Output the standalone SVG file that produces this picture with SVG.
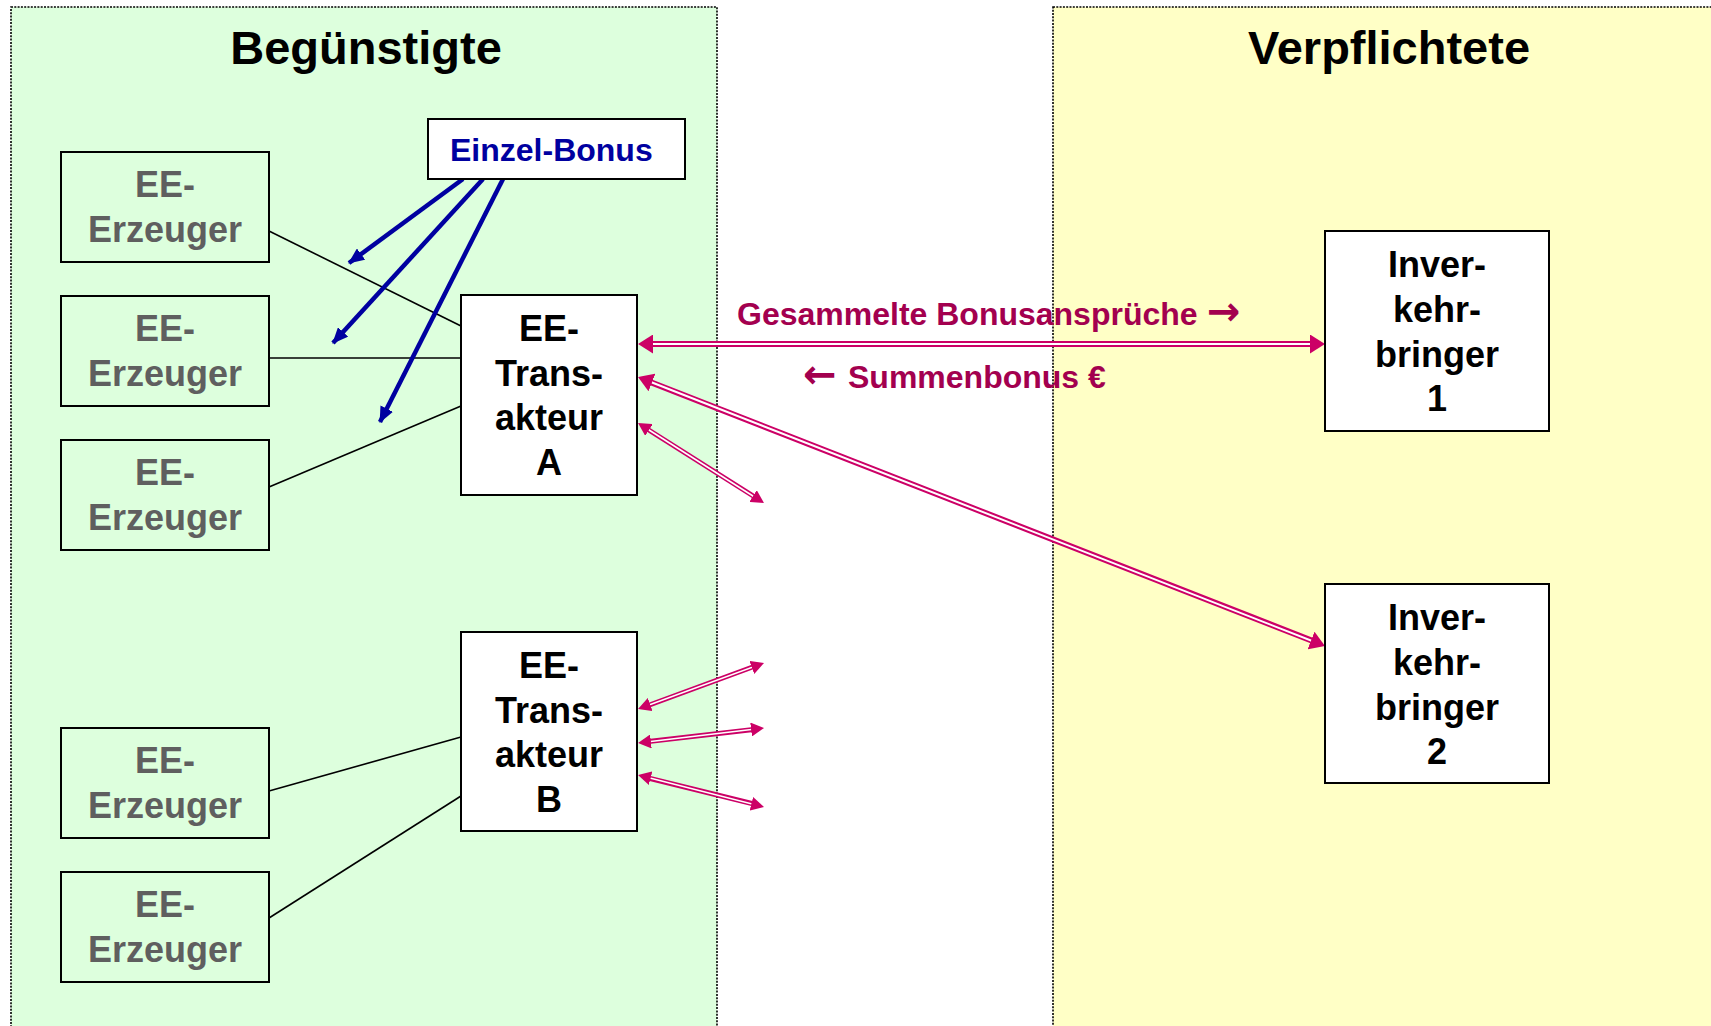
<svg xmlns="http://www.w3.org/2000/svg" width="1711" height="1026" viewBox="0 0 1711 1026">
<style>
.panel{stroke:#000;stroke-width:1.6;stroke-dasharray:2 1.3}
.box{stroke:#000;stroke-width:2}
.t{font-family:"Liberation Sans",Arial,sans-serif;font-weight:bold;text-anchor:middle}
.gen{fill:#5f5f5f;font-size:36px}
.blk{fill:#000;font-size:36px}
.title{fill:#000;font-size:47px}
.lbl{font-family:"Liberation Sans",Arial,sans-serif;font-weight:bold;font-size:32px;fill:#a3004f}
.arw{font-family:"DejaVu Sans",sans-serif;font-size:40px}
.thin{stroke:#000;stroke-width:1.6;fill:none}
.blue{stroke:#0000a0;stroke-width:4.5;fill:none;marker-end:url(#bh)}
.dout{stroke:#cc0066;stroke-width:6;fill:none}
.din{stroke:#fff;stroke-width:2;fill:none;marker-start:url(#mh);marker-end:url(#mh)}
.sout{stroke:#cc0066;stroke-width:5;fill:none}
.sin{stroke:#fff;stroke-width:1.6;fill:none;marker-start:url(#ms);marker-end:url(#ms)}
</style>
<defs>
<marker id="bh" markerUnits="userSpaceOnUse" viewBox="0 0 16 14" refX="15" refY="7" markerWidth="16" markerHeight="14" orient="auto"><path d="M0,0 L16,7 L0,14 z" fill="#0000a0"/></marker>
<marker id="mh" markerUnits="userSpaceOnUse" viewBox="0 0 15 19" refX="15" refY="9.5" markerWidth="15" markerHeight="19" orient="auto-start-reverse"><path d="M0,0 L15,9.5 L0,19 z" fill="#cc0066"/></marker>
<marker id="ms" markerUnits="userSpaceOnUse" viewBox="0 0 13 14" refX="13" refY="7" markerWidth="13" markerHeight="14" orient="auto-start-reverse"><path d="M0,0 L13,7 L0,14 z" fill="#cc0066"/></marker>
</defs>
<rect width="1711" height="1026" fill="#fff"/>
<g id="panel-beguenstigte">
<rect class="panel" x="11" y="7" width="706" height="1040" fill="#ddffdd"/>
<text class="t title" x="366" y="64">Begünstigte</text>
</g>
<g id="panel-verpflichtete">
<rect class="panel" x="1053" y="7" width="680" height="1040" fill="#ffffc6"/>
<text class="t title" x="1389" y="64">Verpflichtete</text>
</g>
<g id="connectors">
<line class="thin" x1="269" y1="231" x2="461" y2="326"/>
<line class="thin" x1="269" y1="358" x2="461" y2="358"/>
<line class="thin" x1="269" y1="487" x2="461" y2="406"/>
<line class="thin" x1="269" y1="791" x2="461" y2="737"/>
<line class="thin" x1="269" y1="918" x2="461" y2="796"/>
<line class="blue" x1="463" y1="179" x2="349" y2="263"/>
<line class="blue" x1="483" y1="179" x2="333" y2="343"/>
<line class="blue" x1="503" y1="179" x2="380" y2="422"/>
<line class="dout" x1="645" y1="344" x2="1318" y2="344"/>
<line class="din" x1="638" y1="344" x2="1325" y2="344"/>
<line class="dout" x1="645" y1="380" x2="1318" y2="643"/>
<line class="din" x1="638" y1="377" x2="1325" y2="646"/>
<line class="sout" x1="644" y1="427" x2="758" y2="499"/>
<line class="sin" x1="638" y1="423" x2="764" y2="503"/>
<line class="sout" x1="644" y1="707" x2="758" y2="665"/>
<line class="sin" x1="638" y1="709" x2="764" y2="663"/>
<line class="sout" x1="644" y1="742" x2="758" y2="729"/>
<line class="sin" x1="638" y1="743" x2="764" y2="728"/>
<line class="sout" x1="644" y1="777" x2="758" y2="805"/>
<line class="sin" x1="638" y1="775" x2="764" y2="807"/>
<text class="lbl" x="737" y="325">Gesammelte Bonusansprüche <tspan class="arw" x="1207">→</tspan></text>
<text class="lbl" x="803" y="388"><tspan class="arw">←</tspan> <tspan x="848">Summenbonus €</tspan></text>
</g>
<g id="erzeuger-1">
<rect class="box" x="61" y="152" width="208" height="110" fill="none"/>
<text class="t gen" x="165" y="197">EE-</text><text class="t gen" x="165" y="242">Erzeuger</text>
</g>
<g id="erzeuger-2">
<rect class="box" x="61" y="296" width="208" height="110" fill="none"/>
<text class="t gen" x="165" y="341">EE-</text><text class="t gen" x="165" y="386">Erzeuger</text>
</g>
<g id="erzeuger-3">
<rect class="box" x="61" y="440" width="208" height="110" fill="none"/>
<text class="t gen" x="165" y="485">EE-</text><text class="t gen" x="165" y="530">Erzeuger</text>
</g>
<g id="erzeuger-4">
<rect class="box" x="61" y="728" width="208" height="110" fill="none"/>
<text class="t gen" x="165" y="773">EE-</text><text class="t gen" x="165" y="818">Erzeuger</text>
</g>
<g id="erzeuger-5">
<rect class="box" x="61" y="872" width="208" height="110" fill="none"/>
<text class="t gen" x="165" y="917">EE-</text><text class="t gen" x="165" y="962">Erzeuger</text>
</g>
<g id="einzel-bonus">
<rect class="box" x="428" y="119" width="257" height="60" fill="#fff"/>
<text class="lbl" x="450" y="161" style="fill:#0000a0">Einzel-Bonus</text>
</g>
<g id="transakteur-a">
<rect class="box" x="461" y="295" width="176" height="200" fill="#fff"/>
<text class="t blk" x="549" y="341">EE-</text><text class="t blk" x="549" y="386">Trans-</text><text class="t blk" x="549" y="430">akteur</text><text class="t blk" x="549" y="475">A</text>
</g>
<g id="transakteur-b">
<rect class="box" x="461" y="632" width="176" height="199" fill="#fff"/>
<text class="t blk" x="549" y="678">EE-</text><text class="t blk" x="549" y="723">Trans-</text><text class="t blk" x="549" y="767">akteur</text><text class="t blk" x="549" y="812">B</text>
</g>
<g id="inverkehrbringer-1">
<rect class="box" x="1325" y="231" width="224" height="200" fill="#fff"/>
<text class="t blk" x="1437" y="277">Inver-</text><text class="t blk" x="1437" y="322">kehr-</text><text class="t blk" x="1437" y="367">bringer</text><text class="t blk" x="1437" y="411">1</text>
</g>
<g id="inverkehrbringer-2">
<rect class="box" x="1325" y="584" width="224" height="199" fill="#fff"/>
<text class="t blk" x="1437" y="630">Inver-</text><text class="t blk" x="1437" y="675">kehr-</text><text class="t blk" x="1437" y="720">bringer</text><text class="t blk" x="1437" y="764">2</text>
</g>
</svg>
